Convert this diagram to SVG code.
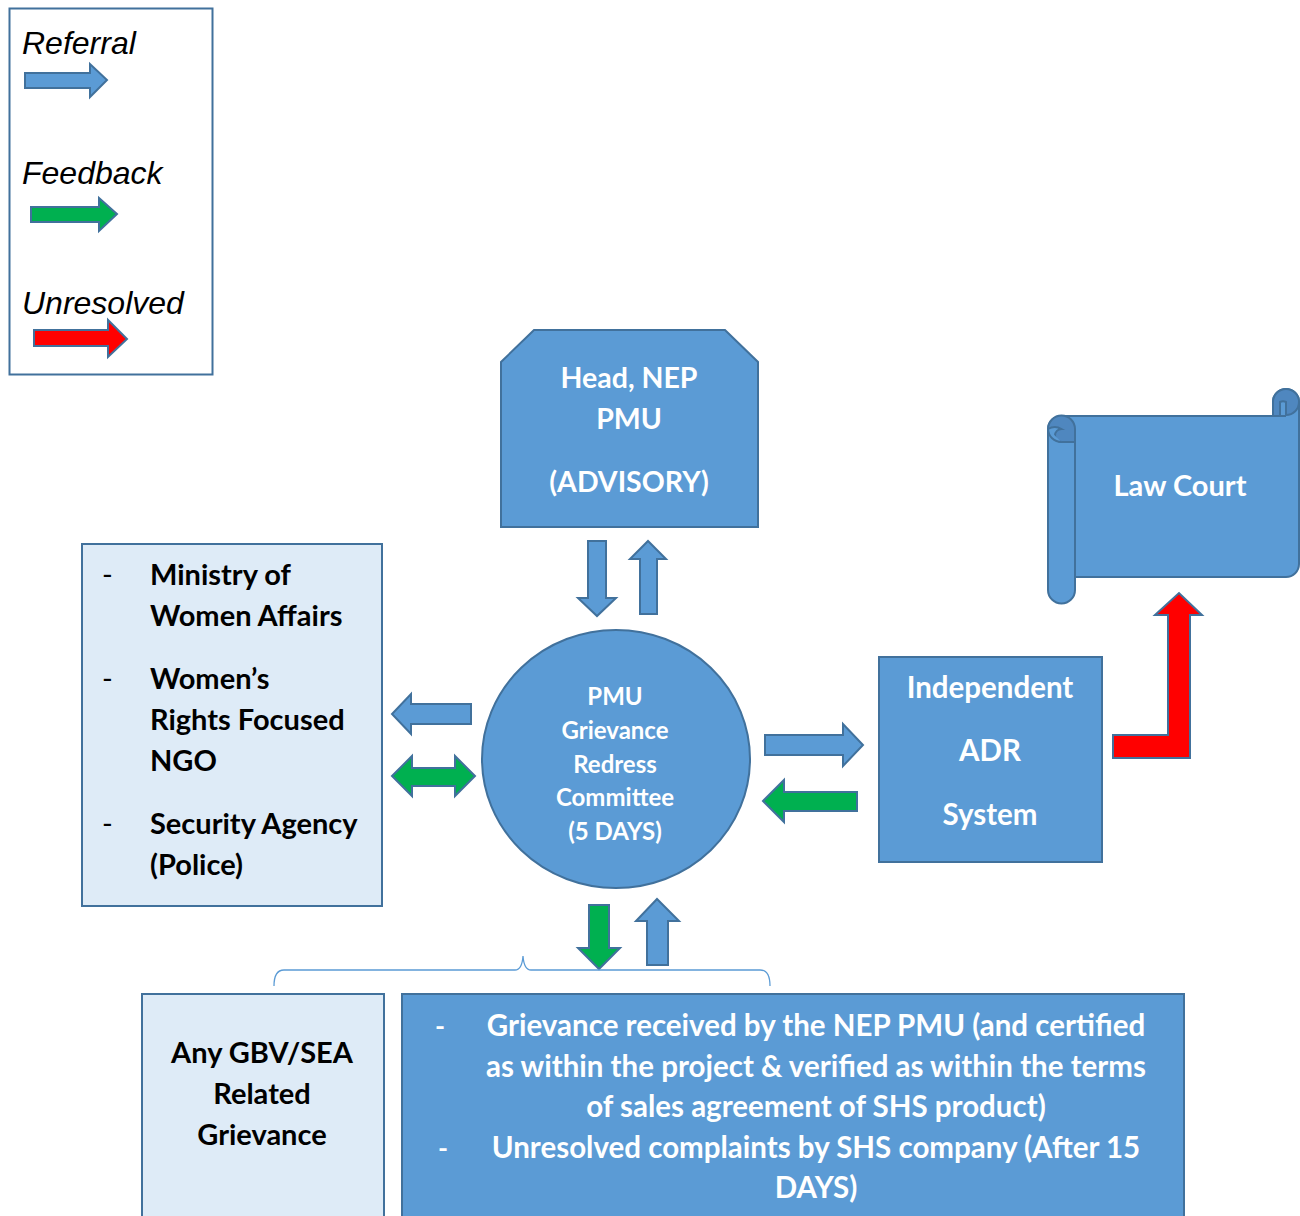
<svg xmlns="http://www.w3.org/2000/svg" width="1300" height="1216" viewBox="0 0 1300 1216">
<style>
.blue{fill:#5b9bd5;stroke:#41719c;stroke-width:2}
.light{fill:#deebf7;stroke:#41719c;stroke-width:2}
.grn{fill:#00b050;stroke:#41719c;stroke-width:2}
.red{fill:#ff0000;stroke:#41719c;stroke-width:2}
.wt{font-family:Lato,"Open Sans",sans-serif;font-weight:bold;fill:#fff;text-anchor:middle}
.bk{font-family:Lato,"Open Sans",sans-serif;font-weight:bold;fill:#000}
.lg{font-family:"Liberation Sans",Arial,sans-serif;font-style:italic;font-size:32px;fill:#000}
.brace{fill:none;stroke:#5b9bd5;stroke-width:1.3}
</style>
<rect width="1300" height="1216" fill="#fff"/>
<g id="legend">
<rect x="9.5" y="8.5" width="203" height="366" fill="#fff" stroke="#41719c" stroke-width="2"/>
<text class="lg" x="22" y="54">Referral</text>
<path class="blue" d="M25,73 H90 V64 L107,80 L90,97 V88 H25 Z"/>
<text class="lg" x="22" y="184">Feedback</text>
<path class="grn" d="M31,207 H99 V198 L117,214 L99,231 V222 H31 Z"/>
<text class="lg" x="22" y="314">Unresolved</text>
<path class="red" d="M34,330 H108 V320 L127,339 L108,357 V346 H34 Z"/>
</g>
<g id="head">
<path class="blue" d="M534,330 H725 L758,362 V527 H501 V362 Z"/>
<text class="wt" font-size="28.5" x="629" y="388">Head, NEP</text>
<text class="wt" font-size="28.5" x="629" y="429">PMU</text>
<text class="wt" font-size="28.5" x="629" y="492">(ADVISORY)</text>
</g>
<g id="committee">
<ellipse class="blue" cx="616" cy="759" rx="134" ry="129"/>
<text class="wt" font-size="24" x="615" y="705">PMU</text>
<text class="wt" font-size="24" x="615" y="739">Grievance</text>
<text class="wt" font-size="24" x="615" y="773">Redress</text>
<text class="wt" font-size="24" x="615" y="806">Committee</text>
<text class="wt" font-size="24" x="615" y="840">(5 DAYS)</text>
</g>
<g id="agencies">
<rect class="light" x="82" y="544" width="300" height="362"/>
<g class="bk" font-size="29">
<text x="102" y="585" font-weight="normal">-</text><text x="150" y="585">Ministry of</text>
<text x="150" y="626">Women Affairs</text>
<text x="102" y="689" font-weight="normal">-</text><text x="150" y="689">Women’s</text>
<text x="150" y="730">Rights Focused</text>
<text x="150" y="771">NGO</text>
<text x="102" y="834" font-weight="normal">-</text><text x="150" y="834">Security Agency</text>
<text x="150" y="875">(Police)</text>
</g>
</g>
<g id="adr">
<rect class="blue" x="879" y="657" width="223" height="205"/>
<text class="wt" font-size="29.5" x="990" y="698">Independent</text>
<text class="wt" font-size="29.5" x="990" y="761">ADR</text>
<text class="wt" font-size="29.5" x="990" y="825">System</text>
</g>
<g id="lawcourt">
<path class="blue" d="M1048,429 A13.5,13.5 0 0 1 1061.5,416 H1273 V402 A13,13 0 0 1 1299,402 V564 A13,13 0 0 1 1286,577 H1075 V590 A13.5,13.5 0 0 1 1048,590 Z"/>
<path class="blue" d="M1048,429 A13.5,13.5 0 0 1 1075,429 V442 H1061.5 A6.5,6.5 0 0 1 1061.5,429 A13.5,13.5 0 0 0 1048,429 Z" style="fill:#4f87bf"/>
<path class="blue" d="M1061.5,442 A13.5,13.5 0 0 1 1048,429"/>
<line x1="1075" y1="442" x2="1075" y2="577" stroke="#41719c" stroke-width="2"/>
<path class="blue" d="M1273,402 A13,13 0 0 1 1299,402 A13,13 0 0 1 1286,415 V402 A6.5,6.5 0 0 0 1280,402 V416 H1273 Z" style="fill:#4f87bf"/>
<line x1="1273" y1="416" x2="1286" y2="416" stroke="#41719c" stroke-width="2"/>
<text class="wt" font-size="29" x="1180" y="496">Law Court</text>
</g>
<g id="gbv">
<rect class="light" x="142" y="994" width="242" height="240"/>
<text class="bk" font-size="29" text-anchor="middle" x="262" y="1063">Any GBV/SEA</text>
<text class="bk" font-size="29" text-anchor="middle" x="262" y="1104">Related</text>
<text class="bk" font-size="29" text-anchor="middle" x="262" y="1145">Grievance</text>
</g>
<g id="criteria">
<rect class="blue" x="402" y="994" width="782" height="240"/>
<text class="wt" font-size="27" font-weight="normal" x="440" y="1036">-</text>
<text class="wt" font-size="29.5" x="816" y="1036">Grievance received by the NEP PMU (and certified</text>
<text class="wt" font-size="29.5" x="816" y="1077">as within the project &amp; verified as within the terms</text>
<text class="wt" font-size="29.5" x="816" y="1117">of sales agreement of SHS product)</text>
<text class="wt" font-size="27" font-weight="normal" x="443" y="1158">-</text>
<text class="wt" font-size="29.5" x="816" y="1158">Unresolved complaints by SHS company (After 15</text>
<text class="wt" font-size="29.5" x="816" y="1198">DAYS)</text>
</g>
<g id="connectors">
<path class="blue" d="M588,541 H606 V598 H616 L597,616 L578,598 H588 Z"/>
<path class="blue" d="M640,614 V559 H630 L648,541 L666,559 H657 V614 Z"/>
<path class="blue" d="M471,704 H411 V694 L392,714 L411,734 V724 H471 Z"/>
<path class="grn" d="M392,776 L412,756 V768 H455 V756 L475,776 L455,796 V786 H412 V796 Z"/>
<path class="blue" d="M765,735 H843 V724 L863,745 L843,766 V755 H765 Z"/>
<path class="grn" d="M857,792 H784 V780 L763,801 L784,822 V811 H857 Z"/>
<path class="red" d="M1113,735 H1168 V615 H1155 L1179,593 L1202,615 H1190 V758 H1113 Z"/>
<path class="grn" d="M589,905 H609 V948 H620 L599,969 L578,948 H589 Z"/>
<path class="blue" d="M647,965 V921 H636 L657,899 L679,921 H668 V965 Z"/>
<path class="brace" d="M274,986 Q274,970 284,970 H515 Q522,970 523,956 Q524,970 531,970 H760 Q770,970 770,986"/>
</g>
</svg>
